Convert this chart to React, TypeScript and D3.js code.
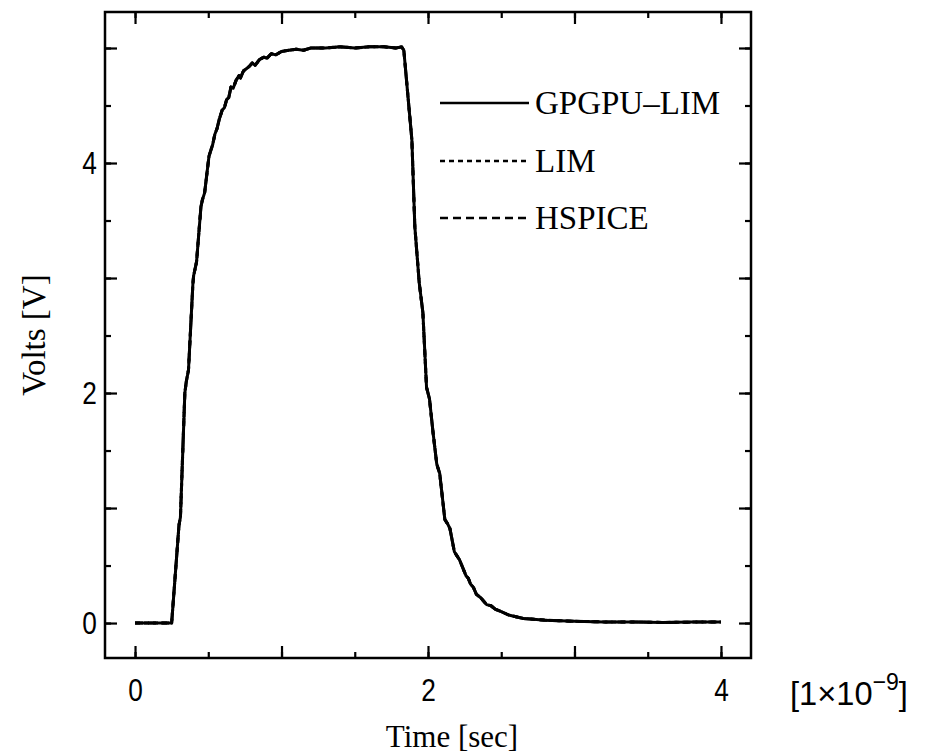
import React, { useEffect, useRef } from "react";
import * as d3 from "d3";

// time axis in units of 1e-9 s
const timeNs = [
  0, 0.1, 0.2, 0.25, 0.3, 0.31, 0.34, 0.35, 0.365, 0.395, 0.4, 0.41, 0.42, 0.45, 0.46, 0.475,
  0.505, 0.515, 0.53, 0.545, 0.56, 0.575, 0.585, 0.595, 0.61, 0.625, 0.64, 0.655, 0.67, 0.69,
  0.71, 0.72, 0.74, 0.76, 0.78, 0.8, 0.82, 0.85, 0.88, 0.9, 0.93, 0.96, 1.0, 1.05, 1.1, 1.15,
  1.2, 1.3, 1.4, 1.5, 1.6, 1.7, 1.78, 1.82, 1.835, 1.89, 1.91, 1.94, 1.965, 1.99, 2.01, 2.035,
  2.06, 2.08, 2.115, 2.135, 2.15, 2.18, 2.2, 2.215, 2.26, 2.275, 2.29, 2.31, 2.33, 2.36, 2.4,
  2.43, 2.46, 2.5, 2.55, 2.6, 2.65, 2.7, 2.8, 2.9, 3.0, 3.2, 3.4, 3.6, 3.8, 4.0,
];

const gpgpuLimVolts = [
  0, 0, 0, 0, 0.85, 0.92, 2.0, 2.1, 2.2, 2.95, 3.02, 3.08, 3.14, 3.62, 3.68, 3.74,
  4.06, 4.1, 4.16, 4.25, 4.3, 4.38, 4.42, 4.46, 4.48, 4.55, 4.57, 4.66, 4.65, 4.72,
  4.76, 4.74, 4.8, 4.82, 4.84, 4.87, 4.85, 4.9, 4.92, 4.91, 4.95, 4.94, 4.97, 4.98, 4.99, 4.98,
  5.0, 5.0, 5.01, 5.0, 5.01, 5.01, 5.0, 5.01, 4.98, 4.2, 3.45, 2.96, 2.7, 2.05, 1.95, 1.65,
  1.38, 1.3, 0.9, 0.86, 0.82, 0.62, 0.58, 0.55, 0.41, 0.39, 0.34, 0.31, 0.25, 0.22, 0.16,
  0.15, 0.12, 0.1, 0.07, 0.055, 0.04, 0.035, 0.025, 0.02, 0.015, 0.01, 0.01, 0.005, 0.008, 0.01,
];

// the three simulators overlap on the plot
const limVolts = gpgpuLimVolts.slice();
const hspiceVolts = gpgpuLimVolts.slice();

const seriesNames = ["GPGPU–LIM", "LIM", "HSPICE"];
const xLabelTicks = [0, 2, 4];
const yLabelTicks = [0, 2, 4];

const App = () => {
  const svgRef = useRef<SVGSVGElement | null>(null);

  useEffect(() => {
    const left = 105;
    const right = 751;
    const top = 12;
    const bottom = 658;

    const svg = d3.select(svgRef.current);
    svg.selectAll("*").remove();

    const x = d3.scaleLinear().domain([-0.205, 4.205]).range([left, right]);
    const y = d3.scaleLinear().domain([-0.304, 5.313]).range([bottom, top]);

    const sansFont = "'Liberation Sans', Arial, sans-serif";
    const serifFont = "'Liberation Serif', 'Times New Roman', serif";

    // minor ticks every 0.5, major every 1, all pointing inward
    const minorX = d3.range(0, 4.01, 0.5);
    const majorX = d3.range(0, 4.01, 1);
    const minorY = d3.range(0, 5.01, 0.5);
    const majorY = d3.range(0, 5.01, 1);

    const addAxis = (axis: any, transform: string) => {
      const g = svg.append("g").attr("transform", transform).call(axis);
      g.select(".domain").remove();
      g.selectAll(".tick line").attr("stroke", "#000").attr("stroke-width", 2.2);
      return g;
    };

    const fmt = (list: number[]) => (d: any) => (list.includes(+d) ? String(d) : "");

    // bottom
    addAxis(d3.axisBottom(x).tickValues(minorX).tickSizeInner(-6).tickSizeOuter(0).tickFormat(() => ""), `translate(0,${bottom})`);
    const xAxis = addAxis(
      d3.axisBottom(x).tickValues(majorX).tickSizeInner(-12).tickSizeOuter(0).tickPadding(20).tickFormat(fmt(xLabelTicks)),
      `translate(0,${bottom})`
    );
    // top
    addAxis(d3.axisTop(x).tickValues(minorX).tickSizeInner(-6).tickSizeOuter(0).tickFormat(() => ""), `translate(0,${top})`);
    addAxis(d3.axisTop(x).tickValues(majorX).tickSizeInner(-12).tickSizeOuter(0).tickFormat(() => ""), `translate(0,${top})`);
    // left
    addAxis(d3.axisLeft(y).tickValues(minorY).tickSizeInner(-6).tickSizeOuter(0).tickFormat(() => ""), `translate(${left},0)`);
    const yAxis = addAxis(
      d3.axisLeft(y).tickValues(majorY).tickSizeInner(-12).tickSizeOuter(0).tickPadding(10).tickFormat(fmt(yLabelTicks)),
      `translate(${left},0)`
    );
    // right
    addAxis(d3.axisRight(y).tickValues(minorY).tickSizeInner(-6).tickSizeOuter(0).tickFormat(() => ""), `translate(${right},0)`);
    addAxis(d3.axisRight(y).tickValues(majorY).tickSizeInner(-12).tickSizeOuter(0).tickFormat(() => ""), `translate(${right},0)`);

    // narrow, tall digits like the original
    [xAxis, yAxis].forEach((g) =>
      g
        .selectAll(".tick text")
        .attr("font-family", sansFont)
        .attr("font-size", 32)
        .attr("fill", "#000")
        .attr("transform", "scale(0.82,1)")
    );

    // frame
    svg
      .append("rect")
      .attr("x", left)
      .attr("y", top)
      .attr("width", right - left)
      .attr("height", bottom - top)
      .attr("fill", "none")
      .attr("stroke", "#000")
      .attr("stroke-width", 2.5);

    const line = d3
      .line<number>()
      .x((d, i) => x(timeNs[i]))
      .y((d) => y(d));

    const series = [
      { name: seriesNames[2], values: hspiceVolts, dash: "8,5" },
      { name: seriesNames[1], values: limVolts, dash: "5,4" },
      { name: seriesNames[0], values: gpgpuLimVolts, dash: null },
    ];

    series.forEach((s) => {
      svg
        .append("path")
        .datum(s.values)
        .attr("fill", "none")
        .attr("stroke", "#000")
        .attr("stroke-width", 3)
        .attr("stroke-linejoin", "round")
        .attr("stroke-dasharray", s.dash)
        .attr("d", line);
    });

    // legend
    const legendY = [103, 161, 218];
    const legendDash = [null, "5,4", "8,5"];
    seriesNames.forEach((name, i) => {
      svg
        .append("line")
        .attr("x1", 440)
        .attr("x2", 529)
        .attr("y1", legendY[i])
        .attr("y2", legendY[i])
        .attr("stroke", "#000")
        .attr("stroke-width", 2.4)
        .attr("stroke-dasharray", legendDash[i]);
      svg
        .append("text")
        .attr("x", 535)
        .attr("y", legendY[i] + 11)
        .attr("font-family", serifFont)
        .attr("font-size", 33)
        .text(name);
    });

    // axis titles
    svg
      .append("text")
      .attr("x", 452)
      .attr("y", 747)
      .attr("text-anchor", "middle")
      .attr("font-family", serifFont)
      .attr("font-size", 31)
      .text("Time [sec]");

    svg
      .append("text")
      .attr("transform", "translate(45,335) rotate(-90)")
      .attr("text-anchor", "middle")
      .attr("font-family", serifFont)
      .attr("font-size", 33)
      .text("Volts [V]");

    // exponent of the time axis
    const expo = svg
      .append("text")
      .attr("transform", "translate(790,705) scale(0.96,1)")
      .attr("font-family", sansFont)
      .attr("font-size", 34);
    expo.append("tspan").text("[1×10");
    expo.append("tspan").attr("dy", -15).attr("font-size", 24).text("−9");
    expo.append("tspan").attr("dy", 15).text("]");
  }, []);

  return (
    <svg
      ref={svgRef}
      width={928}
      height={754}
      style={{ position: "absolute", left: 0, top: 0, background: "#fff" }}
    />
  );
};

export default App;
